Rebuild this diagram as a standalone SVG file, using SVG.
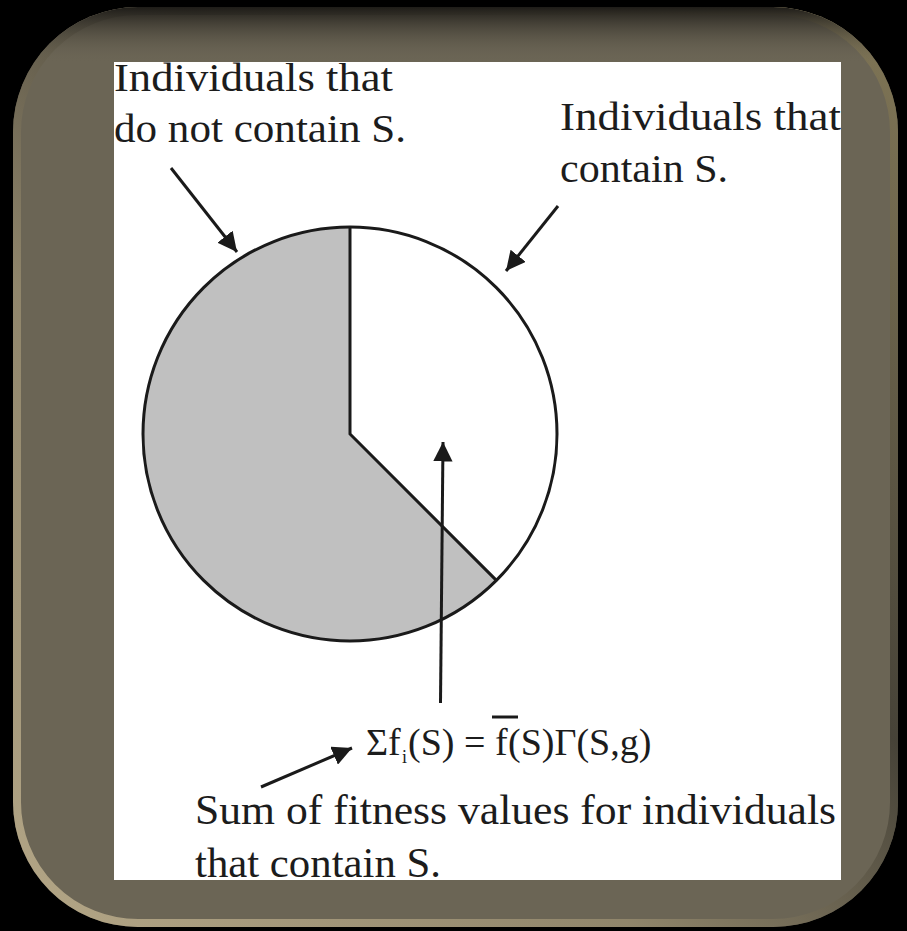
<svg xmlns="http://www.w3.org/2000/svg" width="907" height="931" viewBox="0 0 907 931">
<defs>
<style>
.t{font-family:"Liberation Serif","Times New Roman",serif;fill:#1c1c1c;font-size:41px}
.b{font-family:"Liberation Serif","Times New Roman",serif;fill:#1c1c1c;font-size:43px}
.f{font-family:"Liberation Serif","Times New Roman",serif;fill:#1c1c1c;font-size:38px}
.ln{stroke:#1a1a1a;stroke-width:3;fill:none}
</style>
<linearGradient id="bev" x1="0" y1="1" x2="1" y2="0">
<stop offset="0" stop-color="#cdbd98"/>
<stop offset="0.35" stop-color="#9c9072"/>
<stop offset="0.6" stop-color="#3a372e"/>
<stop offset="1" stop-color="#8a7e58"/>
</linearGradient>
<linearGradient id="topsh" x1="0" y1="0" x2="0" y2="1">
<stop offset="0" stop-color="#1e1c18"/>
<stop offset="0.06" stop-color="#6b6555" stop-opacity="0"/>
</linearGradient>
<clipPath id="frameclip"><rect x="13" y="7" width="885" height="920" rx="125" ry="125"/></clipPath>
<clipPath id="panel"><rect x="114" y="62" width="727" height="818"/></clipPath>
<marker id="ah" viewBox="0 0 10 10" refX="10" refY="5" markerWidth="6.5" markerHeight="6.5" markerUnits="strokeWidth" orient="auto">
<path d="M0,0 L10,5 L0,10 Z" fill="#1a1a1a"/>
</marker>
</defs>
<rect width="907" height="931" fill="#000"/>
<g id="frame">
<rect x="13" y="7" width="885" height="920" rx="125" ry="125" fill="#6b6555"/>
<g clip-path="url(#frameclip)">
<rect x="13" y="7" width="885" height="920" rx="125" ry="125" fill="none" stroke="url(#bev)" stroke-width="16" opacity="0.75"/>
<rect x="13" y="7" width="885" height="920" rx="125" ry="125" fill="url(#topsh)"/>
</g>
</g>
<g id="panel-bg"><rect x="114" y="62" width="727" height="818" fill="#fff"/></g>
<g id="pie">
<path d="M350,434 L496.4,580.4 A207,207 0 1 1 350,227 Z" fill="#c0c0c0"/>
<path d="M350,434 L350,227 A207,207 0 0 1 496.4,580.4 Z" fill="#fff"/>
<circle cx="350" cy="434" r="207" class="ln"/>
<path d="M350,227 L350,434 L496.4,580.4" class="ln"/>
</g>
<g id="connectors">
<line x1="171" y1="168" x2="237" y2="252" class="ln" marker-end="url(#ah)"/>
<line x1="558" y1="206" x2="506" y2="271" class="ln" marker-end="url(#ah)"/>
<line x1="440.5" y1="703" x2="443" y2="442" class="ln" marker-end="url(#ah)"/>
<line x1="261" y1="787" x2="352" y2="748" class="ln" marker-end="url(#ah)"/>
</g>
<g id="label-not-contain">
<text class="t" x="114" y="91" textLength="279" lengthAdjust="spacingAndGlyphs">Individuals that</text>
<text class="t" x="114" y="142" textLength="292" lengthAdjust="spacingAndGlyphs">do not contain S.</text>
</g>
<g id="label-contain" clip-path="url(#panel)">
<text class="t" x="560" y="130" textLength="281" lengthAdjust="spacingAndGlyphs">Individuals that</text>
<text class="t" x="560" y="182" textLength="168" lengthAdjust="spacingAndGlyphs">contain S.</text>
</g>
<g id="formula">
<text class="f" x="366" y="755">Σf<tspan x="402" dy="8" style="font-size:18px">i</tspan><tspan x="408" dy="-8">(S)</tspan><tspan x="464">=</tspan><tspan x="495">f</tspan><tspan x="508">(S)Γ(S,g)</tspan></text>
<line x1="492" y1="717" x2="518" y2="717" stroke="#1a1a1a" stroke-width="3"/>
</g>
<g id="label-sum" clip-path="url(#panel)">
<text class="b" x="195" y="824" textLength="641" lengthAdjust="spacingAndGlyphs">Sum of fitness values for individuals</text>
<text class="b" x="195" y="877" textLength="246" lengthAdjust="spacingAndGlyphs">that contain S.</text>
</g>
</svg>
